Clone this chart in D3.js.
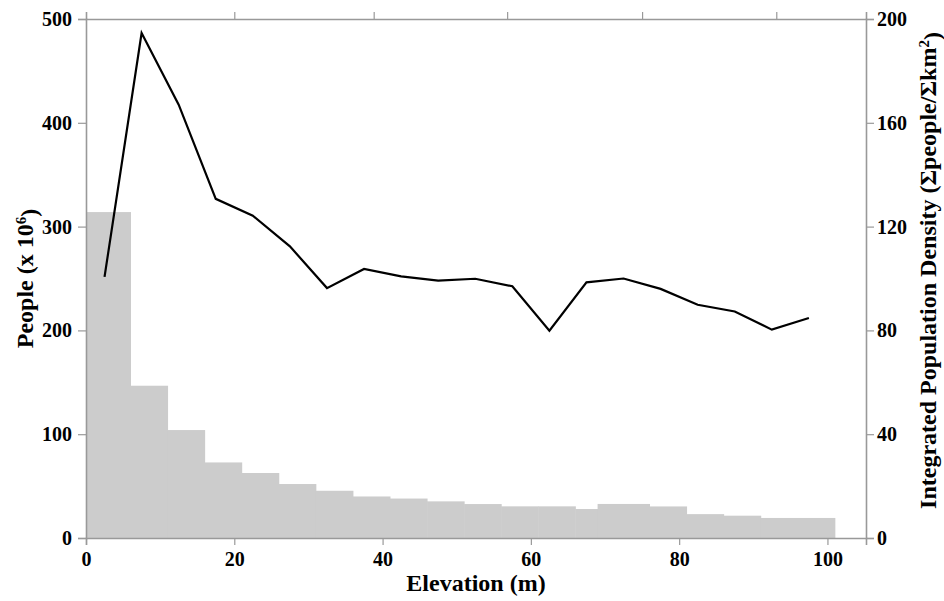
<!DOCTYPE html>
<html>
<head>
<meta charset="utf-8">
<script src="https://cdn.jsdelivr.net/npm/d3@7"></script>
<style>
  body { margin: 0; background: #fff; }
  svg text { font-family: "Liberation Serif", "Times New Roman", Times, "DejaVu Serif", serif !important; font-weight: bold; }
</style>
</head>
<body>
<div id="my_dataviz"></div>
<script>
// bins of elevation (m) and people per bin (x 10^6)
const binEdges = [0, 6, 11, 16, 21, 26, 31, 36, 41, 46, 51, 56, 61, 66, 69, 76, 81, 86, 91, 96, 101];
const peopleValues = [314, 146.7, 104, 72.8, 62.6, 52, 45.5, 40, 38, 35.3, 32.7, 30.5, 30.5, 27.9, 32.8, 30.4, 23, 21.5, 19.3, 19.3];

// integrated population density, midpoints of 5 m bins
const densityElev = [2.5, 7.5, 12.5, 17.5, 22.5, 27.5, 32.5, 37.5, 42.5, 47.5, 52.5, 57.5, 62.5, 67.5, 72.5, 77.5, 82.5, 87.5, 92.5, 97.5];
const densityValues = [100.6, 194.6, 167, 130.7, 124.2, 112.4, 96.3, 103.7, 100.8, 99.2, 99.9, 97, 79.9, 98.5, 100, 96, 89.9, 87.3, 80.3, 84.8];

// tick labels
const xTicks = [0, 20, 40, 60, 80, 100];
const topTicks = [20, 38.8, 56.8, 75, 93.1];
const leftTicks = [0, 100, 200, 300, 400, 500];
const rightTicks = [0, 40, 80, 120, 160, 200];

const margin = {top: 19, right: 78, bottom: 63, left: 86},
      width = 944 - margin.left - margin.right,
      height = 601 - margin.top - margin.bottom;

const svg = d3.select("#my_dataviz")
    .append("svg")
    .attr("width", 944)
    .attr("height", 601)
    .append("g")
    .attr("transform", `translate(${margin.left}, ${margin.top})`);

const x = d3.scaleLinear().domain([0, 105.2]).range([0, width]);
const yLeft = d3.scaleLinear().domain([0, 500]).range([height, 0]);
const yRight = d3.scaleLinear().domain([0, 200]).range([height, 0]);

// bars
const bars = peopleValues.map(function(v, i) { return {x0: binEdges[i], x1: binEdges[i + 1], v: v}; });
svg.append("g")
    .selectAll("rect")
    .data(bars)
    .enter()
    .append("rect")
        .attr("x", function(d) { return x(d.x0); })
        .attr("width", function(d) { return x(d.x1) - x(d.x0) + 0.5; })
        .attr("y", function(d) { return yLeft(d.v); })
        .attr("height", function(d) { return height - yLeft(d.v); })
        .style("fill", "#cccccc");

// density line
const pts = densityElev.map(function(e, i) { return [e, densityValues[i]]; });
svg.append("path")
    .datum(pts)
    .attr("fill", "none")
    .attr("stroke", "#000")
    .attr("stroke-width", 2.2)
    .attr("stroke-linejoin", "miter")
    .attr("d", d3.line().x(function(d) { return x(d[0]); }).y(function(d) { return yRight(d[1]); }));

// axes
function styleAxis(g) {
    g.attr("font-family", null);
    g.select(".domain").attr("stroke", "#999").attr("stroke-width", 1.6);
    g.selectAll(".tick line").attr("stroke", "#999").attr("stroke-width", 1.2);
    g.selectAll(".tick text").attr("fill", "#000").style("font-size", "20px");
}

svg.append("g")
    .attr("transform", `translate(0, ${height})`)
    .call(d3.axisBottom(x).tickValues(xTicks).tickSizeOuter(0).tickSize(7).tickPadding(7))
    .call(styleAxis);

svg.append("g")
    .call(d3.axisTop(x).tickValues(topTicks).tickSizeOuter(0).tickSize(7).tickFormat(""))
    .call(styleAxis);

svg.append("g")
    .call(d3.axisLeft(yLeft).tickValues(leftTicks).tickSizeOuter(0).tickSize(8).tickPadding(6))
    .call(styleAxis);

svg.append("g")
    .attr("transform", `translate(${width}, 0)`)
    .call(d3.axisRight(yRight).tickValues(rightTicks).tickSizeOuter(0).tickSize(8).tickPadding(3))
    .call(styleAxis);

// axis labels
svg.append("text")
    .attr("text-anchor", "middle")
    .attr("x", 0.5 * width)
    .attr("y", height + 53)
    .style("font-size", "24px")
    .text("Elevation (m)");

const leftLabel = svg.append("text")
    .attr("text-anchor", "middle")
    .attr("transform", `translate(${33 - margin.left}, ${0.5 * height}) rotate(-90)`)
    .style("font-size", "24px");
leftLabel.append("tspan").text("People (x 10");
leftLabel.append("tspan").attr("dy", "-0.45em").style("font-size", "15px").text("6");
leftLabel.append("tspan").attr("dy", "0.45em").text(")");

const rightLabel = svg.append("text")
    .attr("text-anchor", "middle")
    .attr("transform", `translate(${936 - margin.left}, ${0.5 * height - 8}) rotate(-90)`)
    .style("font-size", "24px");
rightLabel.append("tspan").text("Integrated Population Density (\u03A3people/\u03A3km");
rightLabel.append("tspan").attr("dy", "-0.45em").style("font-size", "15px").text("2");
rightLabel.append("tspan").attr("dy", "0.45em").text(")");
</script>
</body>
</html>
